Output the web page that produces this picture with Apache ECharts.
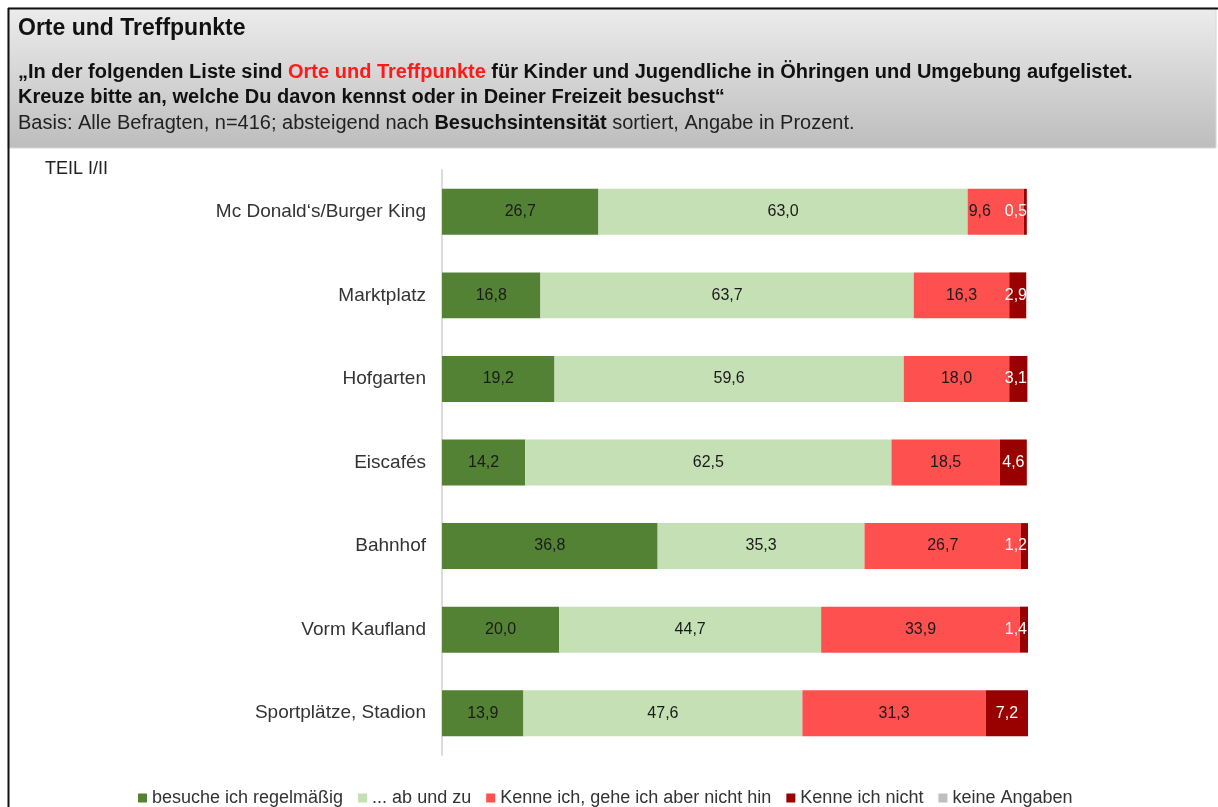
<!DOCTYPE html>
<html>
<head>
<meta charset="utf-8">
<script src="https://cdn.jsdelivr.net/npm/echarts@6/dist/echarts.min.js"></script>
<style>
  html, body { margin: 0; padding: 0; background: #fff; }
  #chart { width: 1218px; height: 807px; }
</style>
</head>
<body>
<div id="chart"></div>
<script>
// Places, top to bottom
const categories = [
  'Mc Donald\u2018s/Burger King',
  'Marktplatz',
  'Hofgarten',
  'Eiscafés',
  'Bahnhof',
  'Vorm Kaufland',
  'Sportplätze, Stadion'
];

// Shares in percent per answer
const regelmaessig = [26.7, 16.8, 19.2, 14.2, 36.8, 20.0, 13.9];
const abUndZu      = [63.0, 63.7, 59.6, 62.5, 35.3, 44.7, 47.6];
const nichtHin     = [9.6, 16.3, 18.0, 18.5, 26.7, 33.9, 31.3];
const kenneNicht   = [0.5, 2.9, 3.1, 4.6, 1.2, 1.4, 7.2];
const keineAngaben = [0, 0, 0, 0, 0, 0, 0];

const seriesNames = [
  'besuche ich regelmäßig',
  '... ab und zu',
  'Kenne ich, gehe ich aber nicht hin',
  'Kenne ich nicht',
  'keine Angaben'
];

const FONT = '"Liberation Sans", Arial, sans-serif';
const GRID = { left: 442, right: 190, top: 170, bottom: 52 };
const fmt = v => (v === 0 ? '' : v.toFixed(1).replace('.', ','));

function barSeries(name, data, color, labelColor, layout) {
  return {
    name: name,
    type: 'bar',
    stack: 'total',
    barWidth: '55%',
    data: data,
    itemStyle: { color: color },
    label: {
      show: true,
      position: 'inside',
      color: labelColor,
      fontFamily: FONT,
      fontSize: 16,
      overflow: 'none',
      formatter: p => fmt(p.value)
    },
    labelLayout: layout,
    emphasis: { disabled: true }
  };
}

// keep value labels of very thin end segments inside the plot
const endLayout = p => {
  const r = p.labelRect;
  const maxX = 1218 - GRID.right - 1;
  if (r && r.x + r.width > maxX) {
    return { x: maxX, y: r.y + r.height / 2, align: 'right', verticalAlign: 'middle' };
  }
  return {};
};

// make room for a crowded end label by nudging the red label left
const redLayout = p => {
  const r = p.labelRect;
  if (r && kenneNicht[p.dataIndex] < 1) {
    return { x: r.x + r.width / 2 - 16, y: r.y + r.height / 2, align: 'center', verticalAlign: 'middle' };
  }
  return {};
};

const chart = echarts.init(document.getElementById('chart'), null, { renderer: 'canvas' });

chart.setOption({
  animation: false,
  backgroundColor: '#ffffff',
  textStyle: { fontFamily: FONT },
  graphic: [
    {
      type: 'rect',
      shape: { x: 8, y: 8, width: 1208, height: 140 },
      style: {
        fill: new echarts.graphic.LinearGradient(0, 0, 0, 1, [
          { offset: 0, color: '#ececec' },
          { offset: 1, color: '#bdbdbd' }
        ]),
        stroke: '#d8d8d8',
        lineWidth: 1
      },
      silent: true
    },
    {
      type: 'line',
      shape: { x1: 8, y1: 8.5, x2: 1218, y2: 8.5 },
      style: { stroke: '#111', lineWidth: 2 },
      silent: true
    },
    {
      type: 'line',
      shape: { x1: 8.5, y1: 8, x2: 8.5, y2: 807 },
      style: { stroke: '#111', lineWidth: 2 },
      silent: true
    },
    {
      type: 'text',
      left: 18, top: 17,
      style: {
        text: 'Orte und Treffpunkte',
        font: 'bold 23px ' + FONT,
        fill: '#111'
      },
      silent: true
    },
    {
      type: 'text',
      left: 18, top: 62,
      style: {
        text: '{b|\u201EIn der folgenden Liste sind }{r|Orte und Treffpunkte}{b| für Kinder und Jugendliche in Öhringen und Umgebung aufgelistet.}\n{b|Kreuze bitte an, welche Du davon kennst oder in Deiner Freizeit besuchst\u201C}\n{n|Basis: Alle Befragten, n=416; absteigend nach }{b|Besuchsintensität}{n| sortiert, Angabe in Prozent.}',
        rich: {
          b: { fontFamily: FONT, fontSize: 20, fontWeight: 'bold', fill: '#111', lineHeight: 25.5 },
          r: { fontFamily: FONT, fontSize: 20, fontWeight: 'bold', fill: '#ff1a1a', lineHeight: 25.5 },
          n: { fontFamily: FONT, fontSize: 20, fill: '#222', lineHeight: 25.5 }
        }
      },
      silent: true
    },
    {
      type: 'text',
      left: 45, top: 160,
      style: { text: 'TEIL I/II', font: '18px ' + FONT, fill: '#222' },
      silent: true
    }
  ],
  legend: {
    top: 784,
    left: 133,
    itemWidth: 9,
    itemHeight: 9,
    itemGap: 15,
    icon: 'rect',
    textStyle: { fontFamily: FONT, fontSize: 18, color: '#333' },
    data: seriesNames
  },
  grid: { left: GRID.left, right: GRID.right, top: GRID.top, bottom: GRID.bottom, containLabel: false },
  xAxis: {
    type: 'value',
    min: 0,
    max: 100,
    show: false
  },
  yAxis: {
    type: 'category',
    inverse: true,
    data: categories,
    axisLine: { show: true, lineStyle: { color: '#dcdcdc', width: 2 } },
    axisTick: { show: false },
    axisLabel: { fontFamily: FONT, fontSize: 19, color: '#333', margin: 16 }
  },
  series: [
    barSeries(seriesNames[0], regelmaessig, '#548235', '#1a1a1a'),
    barSeries(seriesNames[1], abUndZu, '#c5e0b4', '#1a1a1a'),
    barSeries(seriesNames[2], nichtHin, '#ff5050', '#1a1a1a', redLayout),
    barSeries(seriesNames[3], kenneNicht, '#990000', '#ffffff', endLayout),
    barSeries(seriesNames[4], keineAngaben, '#bfbfbf', '#1a1a1a')
  ]
});
</script>
</body>
</html>
